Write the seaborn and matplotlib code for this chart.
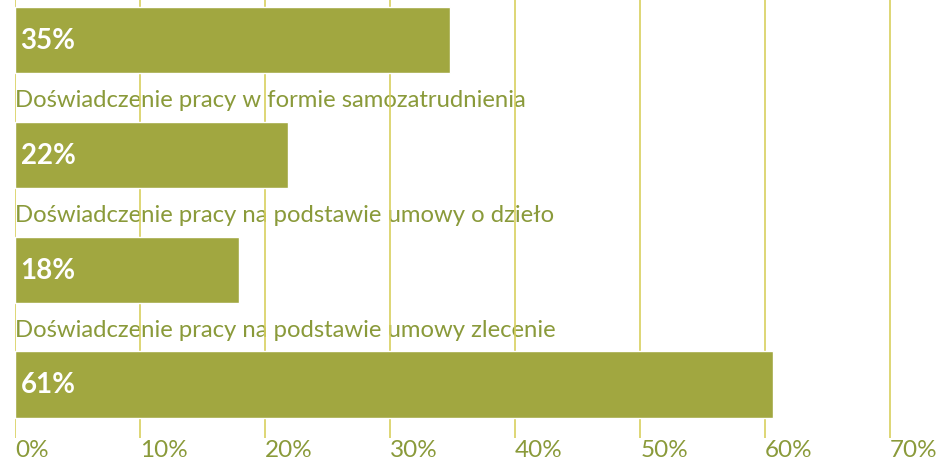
import matplotlib
matplotlib.use("Agg")
import matplotlib.pyplot as plt
import pandas as pd
import seaborn as sns

# data (top label is mostly cut off by the frame)
categories = [
    "Doświadczenie pracy na umowę o pracę",
    "Doświadczenie pracy w formie samozatrudnienia",
    "Doświadczenie pracy na podstawie umowy o dzieło",
    "Doświadczenie pracy na podstawie umowy zlecenie",
]
values = [34.8, 21.8, 17.9, 60.6]
value_labels = ["35%", "22%", "18%", "61%"]
ticks = [0, 10, 20, 30, 40, 50, 60, 70]
tick_labels = ["0%", "10%", "20%", "30%", "40%", "50%", "60%", "70%"]

BAR = "#a1a740"
TEXT = "#8a9a3a"
GRID = "#d8cf5e"

sns.set_style("white")
plt.rcParams["font.family"] = ["Lato", "DejaVu Sans"]

df = pd.DataFrame({"kategoria": categories, "procent": values})

fig = plt.figure(figsize=(9.39, 4.6), dpi=100)
ax = fig.add_axes([15 / 939, 21 / 460, 924 / 939, 439 / 460])
sns.barplot(data=df, x="procent", y="kategoria", orient="h", color=BAR,
            saturation=1, width=0.575, ax=ax)

ax.set_xlim(0, 73.9)
ax.set_ylim(3.466, -0.357)
ax.set_axisbelow(True)
ax.grid(axis="x", color=GRID, linewidth=1.2)
ax.grid(axis="y", visible=False)
for s in ax.spines.values():
    s.set_visible(False)

ax.set_xticks(ticks)
ax.set_xticklabels(tick_labels, color=TEXT, fontsize=17.5, ha="left")
ax.tick_params(axis="x", length=0, pad=1)
ax.set_yticks([])
ax.set_xlabel("")
ax.set_ylabel("")

for i, (cat, lab) in enumerate(zip(categories, value_labels)):
    ax.text(0.02, i - 0.48, cat, color=TEXT, fontsize=17.2, va="center",
            ha="left", zorder=0.3, clip_on=False)
    ax.text(0.45, i, lab, color="white", fontsize=20, fontweight="bold",
            va="center", ha="left")

fig.savefig("out.png", dpi=100)
